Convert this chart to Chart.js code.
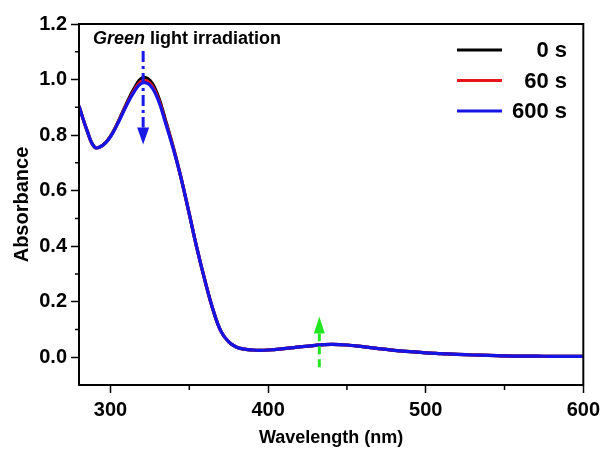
<!DOCTYPE html>
<html>
<head>
<meta charset="utf-8">
<script src="https://cdn.jsdelivr.net/npm/chart.js@4.4.1/dist/chart.umd.min.js"></script>
<style>
  html, body { margin: 0; padding: 0; background: #fff; }
  #wrap { width: 605px; height: 453px; }
</style>
</head>
<body>
<div id="wrap"><canvas id="uvvis"></canvas></div>
<script>
// wavelength grid (nm)
const wavelength = [280, 285, 290, 295, 300, 305, 310, 315, 320, 325, 330, 335, 340, 345, 350, 355, 360, 365, 370, 375, 380, 385, 390, 395, 400,
  410, 420, 430, 440, 450, 460, 470, 480, 490, 500, 510, 520, 530, 540, 550, 560, 570, 580, 590, 600];

// shared tail above 340 nm
const tail = [0.640, 0.515, 0.388, 0.274, 0.172, 0.094, 0.055, 0.036, 0.029, 0.026, 0.025, 0.026,
  0.031, 0.037, 0.043, 0.046, 0.044, 0.038, 0.031, 0.025, 0.020, 0.016, 0.013, 0.010, 0.008, 0.007, 0.005, 0.004, 0.004, 0.003, 0.003, 0.003];

const abs0s   = [0.905, 0.818, 0.756, 0.763, 0.796, 0.850, 0.912, 0.968, 1.006, 0.997, 0.944, 0.852, 0.753].concat(tail);
const abs60s  = [0.905, 0.818, 0.756, 0.763, 0.795, 0.848, 0.908, 0.961, 0.995, 0.987, 0.936, 0.846, 0.750].concat(tail);
const abs600s = [0.905, 0.818, 0.756, 0.763, 0.794, 0.846, 0.905, 0.956, 0.987, 0.980, 0.930, 0.842, 0.747].concat(tail);

const seriesLabels = ['0 s', '60 s', '600 s'];
const seriesColors = ['#000000', '#e8141c', '#1414e6'];

const xTicks = [300, 400, 500, 600];
const xMinor = [350, 450, 550];
const yTicks = [0.0, 0.2, 0.4, 0.6, 0.8, 1.0, 1.2];
const yMinor = [0.1, 0.3, 0.5, 0.7, 0.9, 1.1];

// arrows: [wavelength, from, to]
const downArrow = [320.7, 1.103, 0.766];
const upArrow = [432.5, -0.036, 0.147];

const series = [abs0s, abs60s, abs600s];
const datasets = series.map((vals, i) => ({
  label: seriesLabels[i],
  data: wavelength.map((w, j) => ({ x: w, y: vals[j] })),
  borderColor: seriesColors[i],
  backgroundColor: seriesColors[i],
  borderWidth: 3.2,
  pointRadius: 0,
  fill: false,
  tension: 0.4,
  order: 2 - i
}));

function arrow(ctx, x, y0, y1, color, dash, headLen, headW) {
  const dir = y1 < y0 ? 1 : -1; // 1 = pointing up
  const baseY = y1 + dir * headLen;
  ctx.save();
  ctx.strokeStyle = color;
  ctx.fillStyle = color;
  ctx.lineWidth = 3;
  ctx.setLineDash(dash);
  ctx.beginPath();
  ctx.moveTo(x, y0);
  ctx.lineTo(x, baseY);
  ctx.stroke();
  ctx.setLineDash([]);
  ctx.beginPath();
  ctx.moveTo(x, y1);
  ctx.lineTo(x - headW / 2, baseY);
  ctx.lineTo(x + headW / 2, baseY);
  ctx.closePath();
  ctx.fill();
  ctx.restore();
}

const extras = {
  id: 'extras',
  afterDraw(chart) {
    const { ctx, chartArea: a, scales: { x, y } } = chart;
    ctx.save();
    // frame
    ctx.strokeStyle = '#000';
    ctx.lineWidth = 2;
    ctx.strokeRect(a.left, a.top, a.right - a.left, a.bottom - a.top);
    // minor ticks
    ctx.lineWidth = 1.5;
    ctx.beginPath();
    xMinor.forEach(v => {
      const px = x.getPixelForValue(v);
      ctx.moveTo(px, a.bottom);
      ctx.lineTo(px, a.bottom + 5);
    });
    yMinor.forEach(v => {
      const py = y.getPixelForValue(v);
      ctx.moveTo(a.left, py);
      ctx.lineTo(a.left - 4, py);
    });
    ctx.stroke();

    // annotation text
    ctx.fillStyle = '#000';
    ctx.textBaseline = 'alphabetic';
    ctx.textAlign = 'left';
    ctx.font = 'italic bold 18px "Liberation Sans", Arial, sans-serif';
    let tx = 93;
    ctx.fillText('Green', tx, 44);
    tx += ctx.measureText('Green').width;
    ctx.font = 'bold 18px "Liberation Sans", Arial, sans-serif';
    ctx.fillText(' light irradiation', tx, 44);

    // legend
    ctx.font = 'bold 22px "Liberation Sans", Arial, sans-serif';
    ctx.textAlign = 'right';
    ctx.textBaseline = 'middle';
    chart.data.datasets.forEach((ds, i) => {
      const ry = 50 + i * 30.5;
      ctx.strokeStyle = ds.borderColor;
      ctx.lineWidth = 3;
      ctx.beginPath();
      ctx.moveTo(457, ry);
      ctx.lineTo(502, ry);
      ctx.stroke();
      ctx.fillText(ds.label, 567, ry + 1);
    });
    ctx.restore();

    arrow(ctx, x.getPixelForValue(downArrow[0]), y.getPixelForValue(downArrow[1]), y.getPixelForValue(downArrow[2]),
      '#1a1ae6', [11, 4, 3, 4], 17, 12);
    arrow(ctx, x.getPixelForValue(upArrow[0]), y.getPixelForValue(upArrow[1]), y.getPixelForValue(upArrow[2]),
      '#22e622', [8, 5], 17, 11);
  }
};

new Chart(document.getElementById('uvvis'), {
  type: 'line',
  data: { datasets: datasets },
  plugins: [extras],
  options: {
    responsive: true,
    maintainAspectRatio: false,
    animation: false,
    layout: { padding: { top: 24, right: 21, left: 0, bottom: 0 } },
    plugins: { legend: { display: false }, tooltip: { enabled: false } },
    scales: {
      x: {
        type: 'linear',
        min: 280,
        max: 600,
        afterBuildTicks: s => { s.ticks = xTicks.map(v => ({ value: v })); },
        afterFit: s => { s.height = 68; },
        grid: { drawOnChartArea: false, tickLength: 8, tickWidth: 1.5, tickColor: '#000' },
        border: { color: '#000', width: 2 },
        ticks: { color: '#000', padding: 5, font: { family: '"Liberation Sans", Arial', size: 20, weight: 'bold' } },
        title: {
          display: true, text: 'Wavelength (nm)', color: '#000',
          font: { family: '"Liberation Sans", Arial', size: 18, weight: 'bold' }, padding: { top: 0, bottom: 4 }
        }
      },
      y: {
        min: -0.1,
        max: 1.2,
        afterBuildTicks: s => { s.ticks = yTicks.map(v => ({ value: v })); },
        afterFit: s => { s.width = 79; },
        grid: { drawOnChartArea: false, tickLength: 8, tickWidth: 1.5, tickColor: '#000' },
        border: { color: '#000', width: 2 },
        ticks: {
          color: '#000', padding: 4,
          font: { family: '"Liberation Sans", Arial', size: 20, weight: 'bold' },
          callback: v => v.toFixed(1)
        },
        title: {
          display: true, text: 'Absorbance', color: '#000',
          font: { family: '"Liberation Sans", Arial', size: 20, weight: 'bold' }, padding: { top: 10, bottom: 0 }
        }
      }
    }
  }
});
</script>
</body>
</html>
